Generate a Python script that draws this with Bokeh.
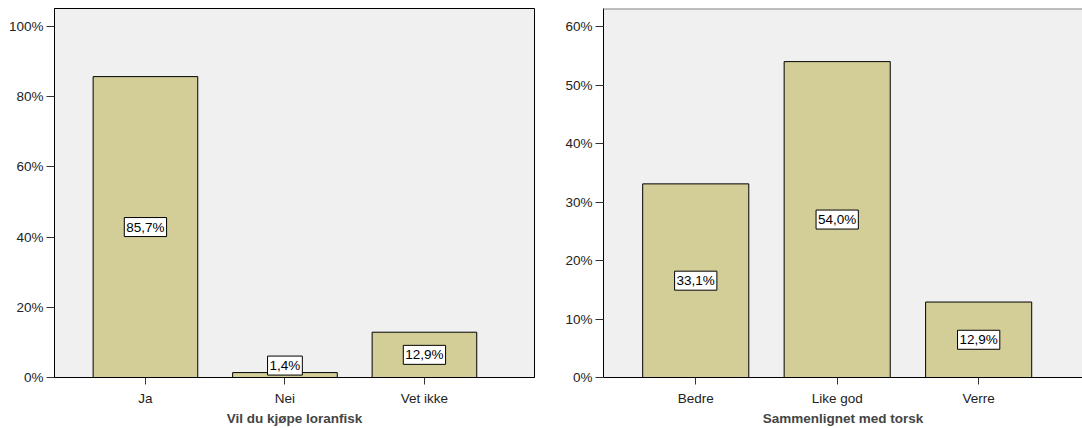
from bokeh.plotting import figure
from bokeh.layouts import row
from bokeh.models import ColumnDataSource, FixedTicker, PrintfTickFormatter, Range1d, Span
from bokeh.core.properties import value
from bokeh.embed import file_html
from bokeh.resources import INLINE

# ---- data ----
left_categories = ["Ja", "Nei", "Vet ikke"]
left_values = [85.7, 1.4, 12.9]
left_title = "Vil du kjøpe loranfisk"
left_yticks = [0, 20, 40, 60, 80, 100]

right_categories = ["Bedre", "Like god", "Verre"]
right_values = [33.1, 54.0, 12.9]
right_title = "Sammenlignet med torsk"
right_yticks = [0, 10, 20, 30, 40, 50, 60]

FONT = "Liberation Sans"
BAR = "#d3ce97"
BG = "#f0f0f0"
FS = "13.5px"


def make(cats, vals, title, yticks, ymax, xend, width, bl, br, outline):
    xs = list(range(1, len(cats) + 1))
    labels = [f"{v:.1f}".replace(".", ",") + "%" for v in vals]
    ly = [v / 2 if v / 2 >= 3 else v + 2 for v in vals]
    src = ColumnDataSource(dict(x=xs, top=vals, lab=labels, ly=ly))
    p = figure(width=width, height=428, output_backend="svg", toolbar_location=None,
               x_range=Range1d(0.348, xend), y_range=Range1d(0, ymax),
               min_border_left=bl, min_border_right=br, min_border_top=8,
               min_border_bottom=51)
    p.background_fill_color = BG
    p.border_fill_color = "white"
    p.outline_line_color = "black" if outline else None
    p.outline_line_width = 1
    p.grid.visible = False
    p.vbar(x="x", top="top", bottom=0, width=0.75, source=src,
           fill_color=BAR, line_color="black", line_width=1)
    p.text(x="x", y="ly", text="lab", source=src, text_align="center",
           text_baseline="middle", text_font=value(FONT), text_font_size=FS,
           text_color="black", background_fill_color="white",
           border_line_color="black", border_line_width=1, padding=2)
    for ax in (p.xaxis[0], p.yaxis[0]):
        ax.axis_line_color = "black"
        ax.major_tick_line_color = "#333333"
        ax.major_tick_in = 0
        ax.major_tick_out = 8
        ax.minor_tick_line_color = None
        ax.major_label_text_font = FONT
        ax.major_label_text_font_size = FS
        ax.major_label_text_color = "#222222"
    p.xaxis.major_tick_out = 7
    p.xaxis.ticker = FixedTicker(ticks=xs)
    p.xaxis.major_label_overrides = {x: c for x, c in zip(xs, cats)}
    p.xaxis.axis_label = title
    p.xaxis.axis_label_text_font = FONT
    p.xaxis.axis_label_text_font_size = FS
    p.xaxis.axis_label_text_font_style = "bold"
    p.xaxis.axis_label_standoff = 2
    p.xaxis.major_label_standoff = 6
    p.yaxis.ticker = FixedTicker(ticks=yticks)
    p.yaxis.formatter = PrintfTickFormatter(format="%d%%")
    p.yaxis.major_label_standoff = 3
    if not outline:
        p.add_layout(Span(location=ymax, dimension="width", line_color="#888888", line_width=2))
    return p


p1 = make(left_categories, left_values, left_title, left_yticks,
          105.1, 3.789, 558, 54, 24, True)
p2 = make(right_categories, right_values, right_title, right_yticks,
          63.08, 3.734, 524, 45, 0, False)

layout = row(p1, p2)
open("out.html", "w").write(file_html(layout, INLINE))
